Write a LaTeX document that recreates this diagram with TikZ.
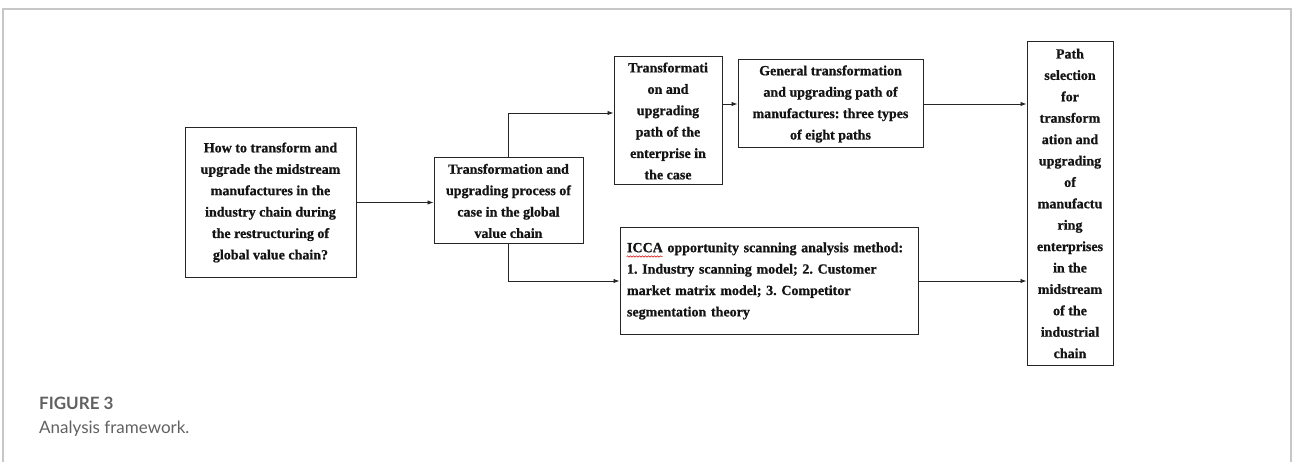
\documentclass[tikz,border=0pt]{standalone}
\usepackage{fontspec}
\setmainfont{Liberation Serif}[BoldFeatures={FakeBold=0.8}]
\newfontfamily\capfont{Lato}
\usetikzlibrary{arrows.meta,decorations.pathmorphing}
\frenchspacing
\begin{document}
\begin{tikzpicture}[x=1pt,y=-1pt,
  box/.style={draw=black!85,line width=1pt,inner sep=2pt,align=center,
    font=\bfseries\fontsize{14}{21.4}\selectfont\frenchspacing,text=black!92},
  link/.style={draw=black!85,line width=0.9pt,-{Latex[length=6pt,width=4.5pt]}},
  frame/.style={draw=black!22,line width=1.5pt},
  captitle/.style={anchor=base west,inner sep=0,text=black!62,
    font=\capfont\bfseries\fontsize{17}{20}\selectfont},
  captext/.style={anchor=base west,inner sep=0,text=black!62,
    font=\capfont\fontsize{17}{20}\selectfont}
]
\useasboundingbox (0,0) rectangle (1292,462);
% panel frame
\draw[frame] (3,462) -- (3,9) -- (1291,9) -- (1291,462);

% boxes
\node[box,minimum width=171pt,minimum height=149pt] (q) at (270.5,202.5)
  {How to transform and\\upgrade the midstream\\manufactures in the\\industry chain during\\the restructuring of\\global value chain?};
\node[box,minimum width=149pt,minimum height=86pt] (proc) at (508.5,201)
  {Transformation and\\upgrading process of\\case in the global\\value chain};
\node[box,minimum width=108pt,minimum height=128pt] (ent) at (668,121)
  {Transformati\\on and\\upgrading\\path of the\\enterprise in\\the case};
\node[box,minimum width=185pt,minimum height=88pt] (gen) at (830.5,104)
  {General transformation\\and upgrading path of\\manufactures: three types\\of eight paths};
\node[box,align=left,text width=284pt,inner xsep=7pt,minimum height=106pt] (icca) at (769,281)
  {ICCA opportunity scanning analysis method:\\1. Industry scanning model; 2. Customer\\market matrix model; 3. Competitor\\segmentation theory};
\node[box,minimum width=86pt,minimum height=323pt] (sel) at (1070,203.5)
  {Path\\selection\\for\\transform\\ation and\\upgrading\\of\\manufactu\\ring\\enterprises\\in the\\midstream\\of the\\industrial\\chain};

% spell-check mark under the acronym
\draw[red!85!black,line width=0.5pt,decorate,
  decoration={snake,amplitude=0.7pt,segment length=3pt}]
  ([xshift=7pt,yshift=-29pt]icca.north west) -- ++(36,0);

% connectors
\draw[link] (q.east) -- (q.east -| proc.west);
\draw[link] (proc.north) |- ([yshift=8pt]ent.west);
\draw[link] (proc.south) |- (icca.west);
\draw[link] (ent.east |- gen.west) -- (gen.west);
\draw[link] (gen.east) -- (gen.east -| sel.west);
\draw[link] (icca.east) -- (icca.east -| sel.west);

% caption
\node[captitle] (figno) at (39,409) {FIGURE 3};
\node[captext] (figcap) at (39,433) {Analysis framework.};
\end{tikzpicture}
\end{document}
